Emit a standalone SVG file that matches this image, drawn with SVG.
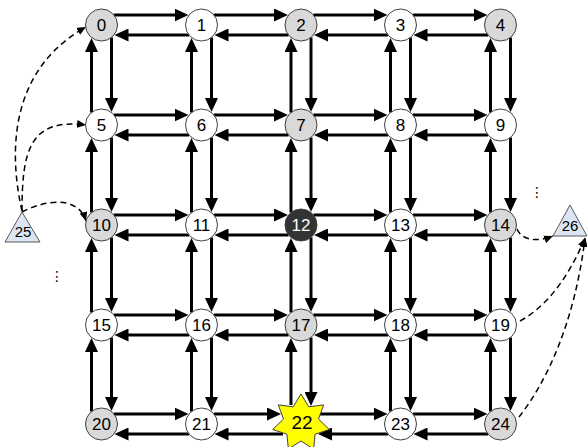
<svg xmlns="http://www.w3.org/2000/svg" width="587" height="447" viewBox="0 0 587 447">
<style>
.e{stroke:#000;stroke-width:3;fill:none;marker-end:url(#ah)}
.d{stroke:#000;stroke-width:1.5;fill:none;stroke-dasharray:6 4;marker-end:url(#dh)}
.n{stroke:#404040;stroke-width:1}
.w{fill:#fff}
.g{fill:#d9d9d9}
.k{fill:#333}
.t{font-family:"Liberation Sans",Arial,sans-serif;font-size:17px;text-anchor:middle;fill:#000}
.tw{fill:#fff}
.tri{fill:#dce6f2;stroke:#595959;stroke-width:1}
.ts{font-family:"Liberation Sans",Arial,sans-serif;font-size:15px;text-anchor:middle;fill:#000}
.dots{font-family:"DejaVu Sans",sans-serif;font-size:14px;text-anchor:middle;fill:#000}
</style>
<defs>
<marker id="ah" markerUnits="userSpaceOnUse" markerWidth="14" markerHeight="13" refX="3" refY="6.5" orient="auto"><path d="M0,0 L14,6.5 L0,13 z" fill="#000"/></marker>
<marker id="dh" markerUnits="userSpaceOnUse" markerWidth="9" markerHeight="8" refX="9" refY="4" orient="auto"><path d="M0,0 L9,4 L0,8 z" fill="#000"/></marker>
</defs>
<g id="connectors">
<line class="e" x1="114" y1="15" x2="177.5" y2="15"/><line class="e" x1="189" y1="35" x2="125.5" y2="35"/>
<line class="e" x1="214" y1="15" x2="277" y2="15"/><line class="e" x1="288.5" y1="35" x2="225.5" y2="35"/>
<line class="e" x1="313.5" y1="15" x2="376.5" y2="15"/><line class="e" x1="388" y1="35" x2="325" y2="35"/>
<line class="e" x1="413" y1="15" x2="476.5" y2="15"/><line class="e" x1="488" y1="35" x2="424.5" y2="35"/>
<line class="e" x1="114" y1="115" x2="177.5" y2="115"/><line class="e" x1="189" y1="135" x2="125.5" y2="135"/>
<line class="e" x1="214" y1="115" x2="277" y2="115"/><line class="e" x1="288.5" y1="135" x2="225.5" y2="135"/>
<line class="e" x1="313.5" y1="115" x2="376.5" y2="115"/><line class="e" x1="388" y1="135" x2="325" y2="135"/>
<line class="e" x1="413" y1="115" x2="476.5" y2="115"/><line class="e" x1="488" y1="135" x2="424.5" y2="135"/>
<line class="e" x1="114" y1="215" x2="177.5" y2="215"/><line class="e" x1="189" y1="235" x2="125.5" y2="235"/>
<line class="e" x1="214" y1="215" x2="277" y2="215"/><line class="e" x1="288.5" y1="235" x2="225.5" y2="235"/>
<line class="e" x1="313.5" y1="215" x2="376.5" y2="215"/><line class="e" x1="388" y1="235" x2="325" y2="235"/>
<line class="e" x1="413" y1="215" x2="476.5" y2="215"/><line class="e" x1="488" y1="235" x2="424.5" y2="235"/>
<line class="e" x1="114" y1="315" x2="177.5" y2="315"/><line class="e" x1="189" y1="335" x2="125.5" y2="335"/>
<line class="e" x1="214" y1="315" x2="277" y2="315"/><line class="e" x1="288.5" y1="335" x2="225.5" y2="335"/>
<line class="e" x1="313.5" y1="315" x2="376.5" y2="315"/><line class="e" x1="388" y1="335" x2="325" y2="335"/>
<line class="e" x1="413" y1="315" x2="476.5" y2="315"/><line class="e" x1="488" y1="335" x2="424.5" y2="335"/>
<line class="e" x1="114" y1="414" x2="177.5" y2="414"/><line class="e" x1="189" y1="434" x2="125.5" y2="434"/>
<line class="e" x1="214" y1="414" x2="270" y2="414"/><line class="e" x1="283" y1="434" x2="225.5" y2="434"/>
<line class="e" x1="320" y1="414" x2="376.5" y2="414"/><line class="e" x1="388" y1="434" x2="329" y2="434"/>
<line class="e" x1="413" y1="414" x2="476.5" y2="414"/><line class="e" x1="488" y1="434" x2="424.5" y2="434"/>
<line class="e" x1="111.5" y1="37.5" x2="111.5" y2="101"/><line class="e" x1="91.5" y1="112.5" x2="91.5" y2="49"/>
<line class="e" x1="111.5" y1="137.5" x2="111.5" y2="201"/><line class="e" x1="91.5" y1="212.5" x2="91.5" y2="149"/>
<line class="e" x1="111.5" y1="237.5" x2="111.5" y2="301"/><line class="e" x1="91.5" y1="312.5" x2="91.5" y2="249"/>
<line class="e" x1="111.5" y1="337.5" x2="111.5" y2="400"/><line class="e" x1="91.5" y1="411.5" x2="91.5" y2="349"/>
<line class="e" x1="211.5" y1="37.5" x2="211.5" y2="101"/><line class="e" x1="191.5" y1="112.5" x2="191.5" y2="49"/>
<line class="e" x1="211.5" y1="137.5" x2="211.5" y2="201"/><line class="e" x1="191.5" y1="212.5" x2="191.5" y2="149"/>
<line class="e" x1="211.5" y1="237.5" x2="211.5" y2="301"/><line class="e" x1="191.5" y1="312.5" x2="191.5" y2="249"/>
<line class="e" x1="211.5" y1="337.5" x2="211.5" y2="400"/><line class="e" x1="191.5" y1="411.5" x2="191.5" y2="349"/>
<line class="e" x1="311" y1="37.5" x2="311" y2="101"/><line class="e" x1="291" y1="112.5" x2="291" y2="49"/>
<line class="e" x1="311" y1="137.5" x2="311" y2="201"/><line class="e" x1="291" y1="212.5" x2="291" y2="149"/>
<line class="e" x1="311" y1="237.5" x2="311" y2="301"/><line class="e" x1="291" y1="312.5" x2="291" y2="249"/>
<line class="e" x1="311" y1="337.5" x2="311" y2="395"/><line class="e" x1="291" y1="405" x2="291" y2="349"/>
<line class="e" x1="410.5" y1="37.5" x2="410.5" y2="101"/><line class="e" x1="390.5" y1="112.5" x2="390.5" y2="49"/>
<line class="e" x1="410.5" y1="137.5" x2="410.5" y2="201"/><line class="e" x1="390.5" y1="212.5" x2="390.5" y2="149"/>
<line class="e" x1="410.5" y1="237.5" x2="410.5" y2="301"/><line class="e" x1="390.5" y1="312.5" x2="390.5" y2="249"/>
<line class="e" x1="410.5" y1="337.5" x2="410.5" y2="400"/><line class="e" x1="390.5" y1="411.5" x2="390.5" y2="349"/>
<line class="e" x1="510.5" y1="37.5" x2="510.5" y2="101"/><line class="e" x1="490.5" y1="112.5" x2="490.5" y2="49"/>
<line class="e" x1="510.5" y1="137.5" x2="510.5" y2="201"/><line class="e" x1="490.5" y1="212.5" x2="490.5" y2="149"/>
<line class="e" x1="510.5" y1="237.5" x2="510.5" y2="301"/><line class="e" x1="490.5" y1="312.5" x2="490.5" y2="249"/>
<line class="e" x1="510.5" y1="337.5" x2="510.5" y2="400"/><line class="e" x1="490.5" y1="411.5" x2="490.5" y2="349"/>
<path class="d" d="M22,211 C6,140 16,66 86,27"/>
<path class="d" d="M22,211 C22,150 30,118 86,125"/>
<path class="d" d="M22,212 C45,200 78,195 86,221"/>
<path class="d" d="M517,229 C522,241 538,242 553,236"/>
<path class="d" d="M520,321 C550,305 572,270 585,238"/>
<path class="d" d="M519,417 C548,380 575,320 585,238"/>
</g>
<g id="n0"><circle class="n g" cx="101.5" cy="25" r="16"/><text class="t" x="101.5" y="31">0</text></g>
<g id="n1"><circle class="n w" cx="201.5" cy="25" r="16"/><text class="t" x="201.5" y="31">1</text></g>
<g id="n2"><circle class="n g" cx="301" cy="25" r="16"/><text class="t" x="301" y="31">2</text></g>
<g id="n3"><circle class="n w" cx="400.5" cy="25" r="16"/><text class="t" x="400.5" y="31">3</text></g>
<g id="n4"><circle class="n g" cx="500.5" cy="25" r="16"/><text class="t" x="500.5" y="31">4</text></g>
<g id="n5"><circle class="n w" cx="101.5" cy="125" r="16"/><text class="t" x="101.5" y="131">5</text></g>
<g id="n6"><circle class="n w" cx="201.5" cy="125" r="16"/><text class="t" x="201.5" y="131">6</text></g>
<g id="n7"><circle class="n g" cx="301" cy="125" r="16"/><text class="t" x="301" y="131">7</text></g>
<g id="n8"><circle class="n w" cx="400.5" cy="125" r="16"/><text class="t" x="400.5" y="131">8</text></g>
<g id="n9"><circle class="n w" cx="500.5" cy="125" r="16"/><text class="t" x="500.5" y="131">9</text></g>
<g id="n10"><circle class="n g" cx="101.5" cy="225" r="16"/><text class="t" x="101.5" y="231">10</text></g>
<g id="n11"><circle class="n w" cx="201.5" cy="225" r="16"/><text class="t" x="201.5" y="231">11</text></g>
<g id="n12"><circle class="n k" cx="301" cy="225" r="16"/><text class="t tw" x="301" y="231">12</text></g>
<g id="n13"><circle class="n w" cx="400.5" cy="225" r="16"/><text class="t" x="400.5" y="231">13</text></g>
<g id="n14"><circle class="n g" cx="500.5" cy="225" r="16"/><text class="t" x="500.5" y="231">14</text></g>
<g id="n15"><circle class="n w" cx="101.5" cy="325" r="16"/><text class="t" x="101.5" y="331">15</text></g>
<g id="n16"><circle class="n w" cx="201.5" cy="325" r="16"/><text class="t" x="201.5" y="331">16</text></g>
<g id="n17"><circle class="n g" cx="301" cy="325" r="16"/><text class="t" x="301" y="331">17</text></g>
<g id="n18"><circle class="n w" cx="400.5" cy="325" r="16"/><text class="t" x="400.5" y="331">18</text></g>
<g id="n19"><circle class="n w" cx="500.5" cy="325" r="16"/><text class="t" x="500.5" y="331">19</text></g>
<g id="n20"><circle class="n g" cx="101.5" cy="424" r="16"/><text class="t" x="101.5" y="430">20</text></g>
<g id="n21"><circle class="n w" cx="201.5" cy="424" r="16"/><text class="t" x="201.5" y="430">21</text></g>
<g id="n22"><polygon points="301,394 308.8,406.8 323.7,404.9 318.5,419 329.3,429.5 315.1,434.2 313.6,449.1 301,441 288.4,449.1 286.9,434.2 272.7,429.5 283.5,419 278.3,404.9 293.2,406.8" fill="#ffff00" stroke="#404040" stroke-width="1"/><text class="t" x="302" y="429" style="font-size:19px">22</text></g>
<g id="n23"><circle class="n w" cx="400.5" cy="424" r="16"/><text class="t" x="400.5" y="430">23</text></g>
<g id="n24"><circle class="n g" cx="500.5" cy="424" r="16"/><text class="t" x="500.5" y="430">24</text></g>
<g id="n25"><polygon class="tri" points="22,212 5,242 40,242"/><text class="ts" x="23" y="237">25</text></g>
<g id="n26"><polygon class="tri" points="570,205 553,236 587,236"/><text class="ts" x="570" y="231">26</text></g>
<text class="dots" x="57" y="281">⋮</text>
<text class="dots" x="537" y="197">⋮</text>
</svg>
